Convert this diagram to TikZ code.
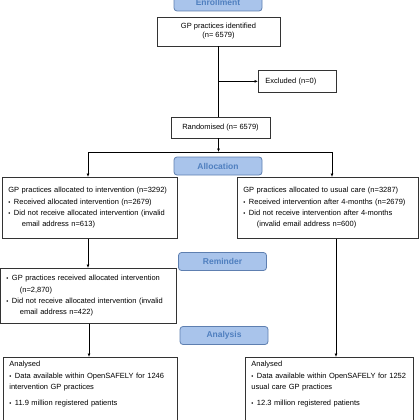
\documentclass[tikz,border=0pt]{standalone}
\usepackage{fontspec}
\setmainfont{Liberation Sans}
\usepackage{xcolor}
\usetikzlibrary{arrows.meta,positioning}
\definecolor{phasefill}{HTML}{A9C4EB}
\definecolor{phaseedge}{HTML}{5E7FB0}
\definecolor{phasetext}{HTML}{4F7FBF}
\definecolor{boxedge}{HTML}{333333}
\newcommand{\flbul}{{\fontsize{6}{6}\selectfont\textbullet}\hspace{3.5pt}}
\newcommand{\flind}{\hspace*{13.5pt}}

\begin{document}
\begin{tikzpicture}[
    x=1pt, y=-1pt,
    phase/.style={rectangle, rounded corners=3pt, draw=phaseedge, line width=0.8pt, fill=phasefill,
        text=phasetext, font=\fontsize{8.5}{10}\selectfont\bfseries, minimum width=88, minimum height=18, inner sep=0},
    box/.style={rectangle, draw=boxedge, line width=0.7pt, fill=white, font=\fontsize{7.5}{11.3}\selectfont, inner sep=0},
    listbox/.style={box, align=left, anchor=north west, inner xsep=6pt, inner ysep=0pt},
    flow/.style={line width=0.7pt, -{Latex[length=3.5pt,width=3pt]}},
    plain/.style={line width=0.7pt}]
\clip (0,0) rectangle (420,420);

\node[phase] (enrol) at (218,2) {Enrollment};
\node[box, align=center, font=\fontsize{7.5}{9}\selectfont, minimum width=123, minimum height=29] (ident) at (218.5,31.5) {GP practices identified\\(n= 6579)};
\node[box, anchor=north west, align=left, text width=64, inner xsep=7, minimum height=22] (excl) at (258,70) {Excluded (n=0)};
\node[box, minimum width=99, minimum height=21] (rand) at (220.5,127.5) {Randomised (n= 6579)};

\coordinate (splitL) at (88,152);
\coordinate (splitR) at (332,152);
\node[phase] (alloc) at (218,166) {Allocation};

\node[listbox, text width=163, minimum height=61] (intA) at (2,177) {GP practices allocated to intervention (n=3292)\\
  \flbul Received allocated intervention (n=2679)\\
  \flbul Did not receive allocated intervention (invalid\\
  \flind email address n=613)};
\node[listbox, text width=169, minimum height=61] (usualA) at (237,177) {GP practices allocated to usual care (n=3287)\\
  \flbul Received intervention after 4-months (n=2679)\\
  \flbul Did not receive intervention after 4-months\\
  \flind (invalid email address n=600)};

\node[phase] (remind) at (222.5,261.5) {Reminder};
\node[listbox, text width=164, minimum height=55] (intB) at (0,268) {\flbul GP practices received allocated intervention\\
  \flind (n=2,870)\\
  \flbul Did not receive allocated intervention (invalid\\
  \flind email address n=422)};

\node[phase] (analysis) at (224,335.5) {Analysis};
\node[listbox, text width=162, inner ysep=4] (anaL) at (3,357) {Analysed\\
  \flbul Data available within OpenSAFELY for 1246\\
  intervention GP practices\\[4.5pt]
  \flbul 11.9 million registered patients\\[20pt]\strut};
\node[listbox, text width=156, inner ysep=4] (anaR) at (245,357) {Analysed\\
  \flbul Data available within OpenSAFELY for 1252\\
  usual care GP practices\\[4.5pt]
  \flbul 12.3 million registered patients\\[20pt]\strut};

\draw[plain] (ident.south) -- (ident.south |- rand.north);
\draw[flow] (ident.south |- excl.west) -- (excl.west);
\draw[flow] (ident.south |- rand.south) -- (ident.south |- splitL);
\draw[plain] (splitL) -- (splitR);
\draw[flow] (splitL) -- (splitL |- intA.north);
\draw[flow] (splitR) -- (splitR |- usualA.north);
\draw[flow] (splitL |- intA.south) -- (splitL |- intB.north);
\draw[flow] ([xshift=1pt]splitL |- intB.south) -- ([xshift=1pt]splitL |- anaL.north);
\draw[flow] ([xshift=4pt]splitR |- usualA.south) -- ([xshift=4pt]splitR |- anaR.north);
\end{tikzpicture}
\end{document}
